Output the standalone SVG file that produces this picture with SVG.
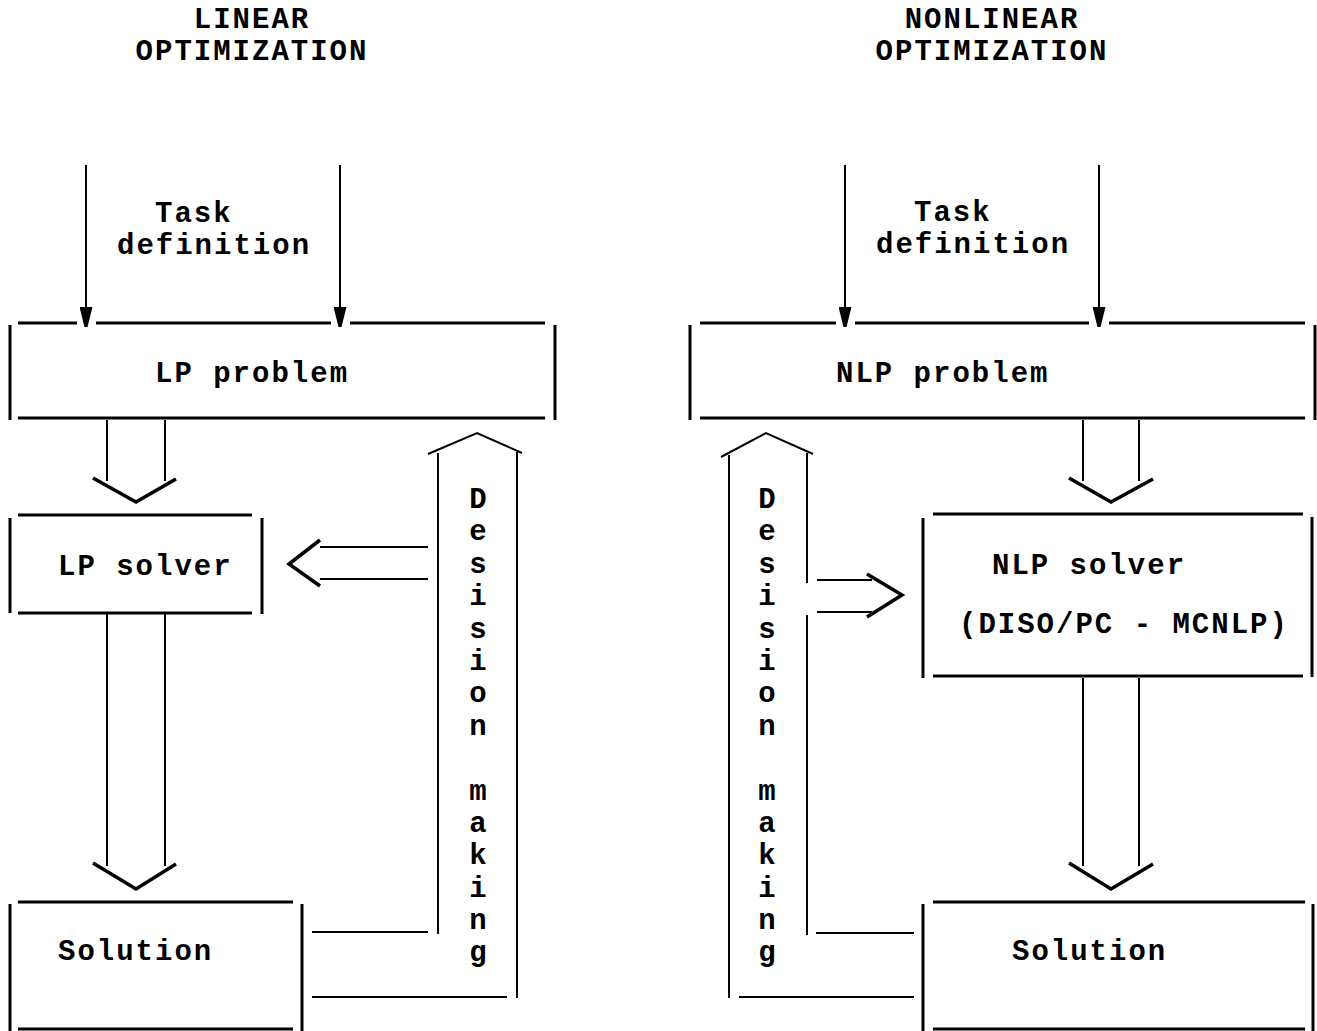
<svg xmlns="http://www.w3.org/2000/svg" width="1317" height="1031" viewBox="0 0 1317 1031">
<style>
text{font-family:"Liberation Mono","Courier New",monospace;font-weight:bold;font-size:29px;fill:#000;letter-spacing:2px}
.v{text-anchor:middle;letter-spacing:0}
.c{text-anchor:middle}
.b{stroke:#000;stroke-width:3;fill:none}
.t{stroke:#000;stroke-width:2;fill:none}
.h{stroke:#000;stroke-width:3.5;fill:none;stroke-linejoin:miter}
</style>
<defs>
<marker id="ah" markerWidth="20" markerHeight="13" refX="20" refY="6.5" orient="auto" markerUnits="userSpaceOnUse" viewBox="0 0 20 13">
<path d="M0,0 L20,5 L20,8 L0,13 Z" fill="#000"/>
</marker>
</defs>
<rect width="1317" height="1031" fill="#fff"/>

<g id="title-linear">
<text class="c" x="252" y="28">LINEAR</text>
<text class="c" x="252" y="60">OPTIMIZATION</text>
</g>
<g id="title-nonlinear">
<text class="c" x="992" y="28">NONLINEAR</text>
<text class="c" x="992" y="60">OPTIMIZATION</text>
</g>

<g id="task-left">
<text x="155" y="222">Task</text>
<text x="117" y="254">definition</text>
</g>
<g id="task-right">
<text x="914" y="221">Task</text>
<text x="876" y="253">definition</text>
</g>

<g id="lp-problem">
<path class="b" d="M18,323H77M96,323H331M350,323H545M18,418H545M10,325V420M555,325V420"/>
<text x="155" y="382">LP  problem</text>
</g>
<g id="lp-solver">
<path class="b" d="M18,515H252M18,613H252M10,518V613M262,518V614"/>
<text x="58" y="575">LP solver</text>
</g>
<g id="lp-solution">
<path class="b" d="M18,902H293M18,1029H293M10,904V1031M302,904V1031"/>
<text x="58" y="960">Solution</text>
</g>
<g id="decision-left">
<path class="t" d="M438,934V453M517,998V452"/>
<path class="t" d="M428,454L477,433L522,453"/>
<text class="v" x="478" y="508">D</text>
<text class="v" x="478" y="540">e</text>
<text class="v" x="478" y="573">s</text>
<text class="v" x="478" y="605">i</text>
<text class="v" x="478" y="638">s</text>
<text class="v" x="478" y="670">i</text>
<text class="v" x="478" y="702">o</text>
<text class="v" x="478" y="735">n</text>
<text class="v" x="478" y="800">m</text>
<text class="v" x="478" y="832">a</text>
<text class="v" x="478" y="864">k</text>
<text class="v" x="478" y="897">i</text>
<text class="v" x="478" y="929">n</text>
<text class="v" x="478" y="961">g</text>
</g>

<g id="nlp-problem">
<path class="b" d="M700,323H836M855,323H1089M1109,323H1305M700,418H1305M690,325V420M1315,325V420"/>
<text x="836" y="382">NLP  problem</text>
</g>
<g id="nlp-solver">
<path class="b" d="M933,514H1303M933,676H1303M923,518V678M1312,517V677"/>
<text x="992" y="574">NLP solver</text>
<text x="959" y="633">(DISO/PC - MCNLP)</text>
</g>
<g id="nlp-solution">
<path class="b" d="M933,902H1305M933,1029H1305M923,904V1031M1313,904V1031"/>
<text x="1012" y="960">Solution</text>
</g>
<g id="decision-right">
<path class="t" d="M729,998V455M807,935V615M807,583V453"/>
<path class="t" d="M721,457L766,433L813,454"/>
<text class="v" x="767" y="508">D</text>
<text class="v" x="767" y="540">e</text>
<text class="v" x="767" y="573">s</text>
<text class="v" x="767" y="605">i</text>
<text class="v" x="767" y="638">s</text>
<text class="v" x="767" y="670">i</text>
<text class="v" x="767" y="702">o</text>
<text class="v" x="767" y="735">n</text>
<text class="v" x="767" y="800">m</text>
<text class="v" x="767" y="832">a</text>
<text class="v" x="767" y="864">k</text>
<text class="v" x="767" y="897">i</text>
<text class="v" x="767" y="929">n</text>
<text class="v" x="767" y="961">g</text>
</g>

<g id="connectors">
<!-- task definition arrows -->
<path class="t" d="M86,165V327" marker-end="url(#ah)"/>
<path class="t" d="M340,165V327" marker-end="url(#ah)"/>
<path class="t" d="M845,165V327" marker-end="url(#ah)"/>
<path class="t" d="M1099,165V327" marker-end="url(#ah)"/>
<!-- LP problem -> LP solver -->
<path class="t" d="M107,420V481M165,420V481"/>
<path class="h" d="M93,478L136,502L176,479"/>
<!-- LP solver -> Solution -->
<path class="t" d="M107,614V866M165,614V866"/>
<path class="h" d="M93,863L136,889L176,864"/>
<!-- Decision -> LP solver -->
<path class="t" d="M320,547H428M320,579H428"/>
<path class="h" d="M320,540L289,564L320,586"/>
<!-- Solution -> decision (left) -->
<path class="t" d="M312,932H428M312,997H507"/>
<!-- NLP problem -> NLP solver -->
<path class="t" d="M1083,420V481M1139,420V481"/>
<path class="h" d="M1069,478L1111,502L1153,479"/>
<!-- NLP solver -> Solution -->
<path class="t" d="M1083,678V866M1139,678V866"/>
<path class="h" d="M1069,863L1111,889L1153,864"/>
<!-- Decision -> NLP solver -->
<path class="t" d="M817,580H872M817,612H872"/>
<path class="h" d="M867,574L902,595L867,617"/>
<!-- Solution -> decision (right) -->
<path class="t" d="M816,933H914M739,997H914"/>
</g>
</svg>
